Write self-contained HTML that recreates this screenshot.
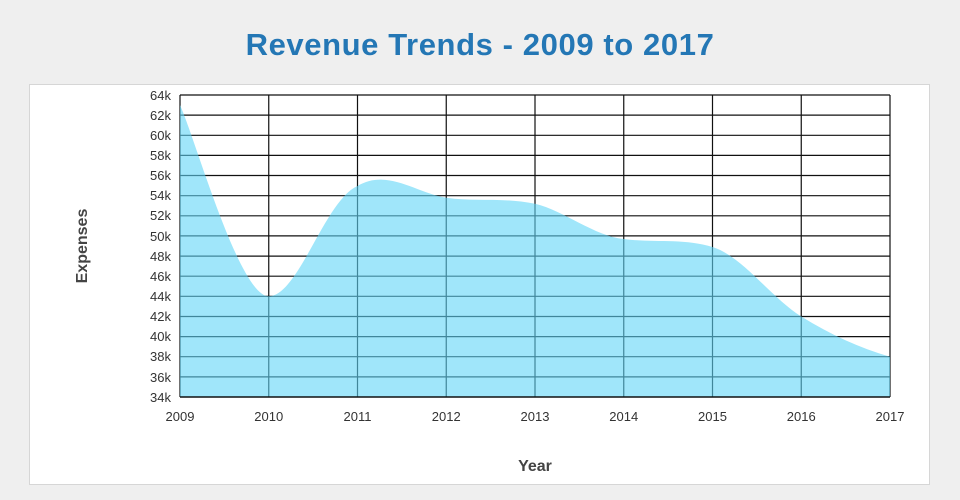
<!DOCTYPE html>
<html><head><meta charset="utf-8"><style>
html,body{margin:0;padding:0;background:#efefef;width:960px;height:500px;overflow:hidden}
</style></head><body>
<svg width="960" height="500" xmlns="http://www.w3.org/2000/svg" font-family="Liberation Sans, sans-serif">
<rect x="0" y="0" width="960" height="500" fill="#efefef"/>
<text x="480" y="55" text-anchor="middle" font-size="31" font-weight="bold" fill="#2477b5" letter-spacing="0.6">Revenue Trends - 2009 to 2017</text>
<rect x="29.5" y="84.5" width="900" height="400" fill="#fff" stroke="#d6d6d6"/>
<g stroke="#111" stroke-width="1.2">
<line x1="180" y1="95" x2="890" y2="95"/><line x1="180" y1="115.1" x2="890" y2="115.1"/><line x1="180" y1="135.3" x2="890" y2="135.3"/><line x1="180" y1="155.4" x2="890" y2="155.4"/><line x1="180" y1="175.5" x2="890" y2="175.5"/><line x1="180" y1="195.7" x2="890" y2="195.7"/><line x1="180" y1="215.8" x2="890" y2="215.8"/><line x1="180" y1="235.9" x2="890" y2="235.9"/><line x1="180" y1="256.1" x2="890" y2="256.1"/><line x1="180" y1="276.2" x2="890" y2="276.2"/><line x1="180" y1="296.3" x2="890" y2="296.3"/><line x1="180" y1="316.5" x2="890" y2="316.5"/><line x1="180" y1="336.6" x2="890" y2="336.6"/><line x1="180" y1="356.7" x2="890" y2="356.7"/><line x1="180" y1="376.9" x2="890" y2="376.9"/>
<line x1="180" y1="95" x2="180" y2="397"/><line x1="268.75" y1="95" x2="268.75" y2="397"/><line x1="357.5" y1="95" x2="357.5" y2="397"/><line x1="446.25" y1="95" x2="446.25" y2="397"/><line x1="535" y1="95" x2="535" y2="397"/><line x1="623.75" y1="95" x2="623.75" y2="397"/><line x1="712.5" y1="95" x2="712.5" y2="397"/><line x1="801.25" y1="95" x2="801.25" y2="397"/><line x1="890" y1="95" x2="890" y2="397"/>
</g>
<path d="M180,105.1 C194.8,137 239.2,296.3 268.75,296.3 C298.3,296.3 325,200 357.5,186 C387.1,168 416.7,193.2 446.25,197.7 C475.8,202 500,197 535,203.7 C564.6,210.8 594.2,236 623.75,239 C653.3,243 682.9,238 712.5,247 C742.1,256 771.7,298.2 801.25,316.5 C830.8,334.8 860,348 890,356.7 L890,397 L180,397 Z" fill="rgb(97,213,246)" fill-opacity="0.6"/>
<line x1="180" y1="397" x2="890" y2="397" stroke="#111" stroke-width="1.5"/>
<g font-size="13" fill="#333" text-anchor="end">
<text x="171" y="100">64k</text><text x="171" y="120">62k</text><text x="171" y="140">60k</text><text x="171" y="160">58k</text><text x="171" y="180">56k</text><text x="171" y="200">54k</text><text x="171" y="220">52k</text><text x="171" y="241">50k</text><text x="171" y="261">48k</text><text x="171" y="281">46k</text><text x="171" y="301">44k</text><text x="171" y="321">42k</text><text x="171" y="341">40k</text><text x="171" y="361">38k</text><text x="171" y="382">36k</text><text x="171" y="402">34k</text>
</g>
<g font-size="13" fill="#333" text-anchor="middle">
<text x="180" y="421">2009</text><text x="268.75" y="421">2010</text><text x="357.5" y="421">2011</text><text x="446.25" y="421">2012</text><text x="535" y="421">2013</text><text x="623.75" y="421">2014</text><text x="712.5" y="421">2015</text><text x="801.25" y="421">2016</text><text x="890" y="421">2017</text>
</g>
<text x="535" y="471" text-anchor="middle" font-size="16" font-weight="bold" fill="#444">Year</text>
<text transform="translate(87,246) rotate(-90)" text-anchor="middle" font-size="16" font-weight="bold" fill="#444">Expenses</text>
</svg>
</body></html>
